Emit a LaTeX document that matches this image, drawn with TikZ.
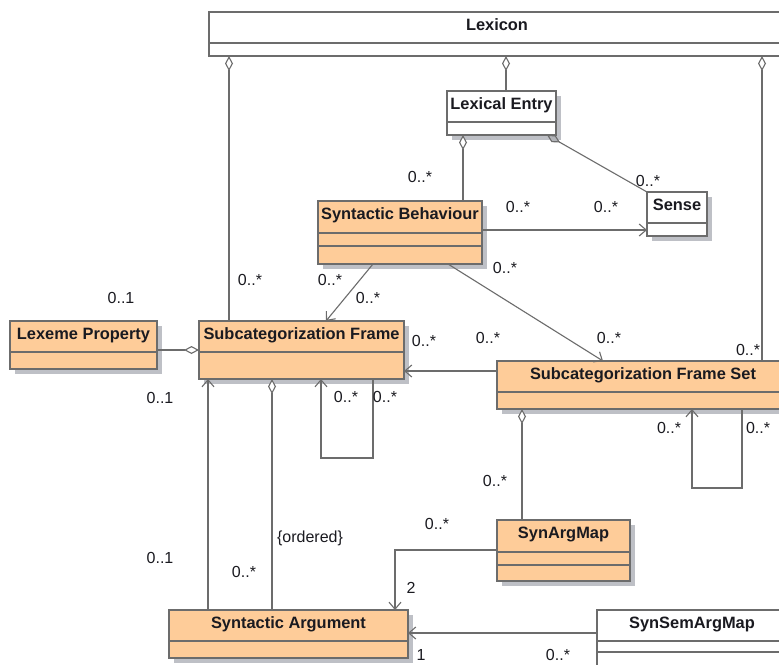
\documentclass[tikz,border=0pt]{standalone}
\usepackage{fontspec}
\setmainfont{Liberation Sans}
\usetikzlibrary{arrows.meta,calc,shadows}

\definecolor{peach}{RGB}{254,204,153}
\definecolor{umlline}{RGB}{108,108,108}
\definecolor{umlshadow}{RGB}{190,192,198}
\definecolor{umltext}{RGB}{26,26,32}

\tikzset{
  classbox/.style={draw=umlline, line width=1.3pt, inner sep=0pt, outer sep=0pt},
  shadowed/.style={general shadow={fill=umlshadow, shadow xshift=5pt, shadow yshift=-5pt}},
  filled/.style={fill=peach},
  plain/.style={fill=white},
  classname/.style={font=\fontsize{16.4}{18}\selectfont\bfseries, text=umltext, inner sep=0pt},
  boxline/.style={draw=umlline, line width=1.3pt},
  conn/.style={draw=umlline, line width=1.1pt, line join=miter},
  nav/.style={conn, -{Straight Barb[length=7pt,width=12pt,line width=1.1pt]}},
  agg/.style={conn, {Diamond[length=15pt,width=8pt,fill=white,line width=1.1pt]}-},
  aggend/.style={conn, -{Diamond[length=15pt,width=8pt,fill=white,line width=1.1pt]}},
  comp/.style={conn, {Diamond[length=15pt,width=8pt,fill=umlshadow!80!gray,line width=1.1pt]}-},
  mult/.style={font=\fontsize{16}{18}\selectfont, text=umltext, inner sep=0pt}
}

% class box: [style] name, x, y, width, height, title
\newcommand\umlclass[7][]{%
  \node[classbox,#1,minimum width=#5pt,minimum height=#6pt,anchor=north west] (#2) at (#3,#4) {};
  \node[classname,anchor=base] (#2-name) at ($(#2.north)+(0,18)$) {#7};
}
% compartment separator at a given depth below the top edge
\newcommand\umlsep[2]{\draw[boxline] ($(#1.north west)+(0,#2)$) -- ($(#1.north east)+(0,#2)$);}

\begin{document}
\begin{tikzpicture}[x=1pt,y=-1pt]
\path[use as bounding box, clip] (0,0) rectangle (779,664);
\fill[white] (0,0) rectangle (779,664);

% ---- classes ----
\umlclass[plain]{lexicon}{209}{12}{576}{44}{Lexicon}
\umlsep{lexicon}{31}

\umlclass[plain,shadowed]{le}{447}{91}{109}{44}{Lexical Entry}
\umlsep{le}{31}

\umlclass[plain,shadowed]{sense}{647}{192}{60}{44}{Sense}
\umlsep{sense}{31}

\umlclass[filled,shadowed]{sb}{318}{201}{164}{63}{Syntactic Behaviour}
\umlsep{sb}{32}
\umlsep{sb}{45}

\umlclass[filled,shadowed]{lp}{10}{321}{147}{48}{Lexeme Property}
\umlsep{lp}{31}

\umlclass[filled,shadowed]{sf}{199}{321}{205}{58}{Subcategorization Frame}
\umlsep{sf}{31}

\umlclass[filled,shadowed]{sfs}{497}{361}{292}{48}{Subcategorization Frame Set}
\umlsep{sfs}{31}

\umlclass[filled,shadowed]{sam}{497}{520}{133}{61}{SynArgMap}
\umlsep{sam}{32}
\umlsep{sam}{45}

\umlclass[filled,shadowed]{sa}{169}{610}{239}{48}{Syntactic Argument}
\umlsep{sa}{31}

\umlclass[plain]{ssam}{597}{610}{190}{70}{SynSemArgMap}
\umlsep{ssam}{31}
\umlsep{ssam}{42}

% ---- connectors ----
\draw[agg] ($(lexicon.south west)+(20,0)$) -- ($(sf.north west)+(30,0)$);
\draw[agg] ($(lexicon.south west)+(297,0)$) -- ($(le.north west)+(59,0)$);
\draw[agg] ($(lexicon.south west)+(553,0)$) -- ($(sfs.north west)+(265,0)$);
\draw[agg] ($(le.south west)+(16,0)$) -- ($(sb.north west)+(145,0)$);
\draw[comp] ($(le.south east)+(-9,0)$) -- (sense.north west);
\draw[nav] ($(sb.north east)+(0,29)$) -- ($(sense.north west)+(0,38)$);
\draw[nav] ($(sb.south west)+(55,0)$) -- ($(sf.north west)+(127,0)$);
\draw[nav] ($(sb.south west)+(130,0)$) -- ($(sfs.north west)+(106,0)$);
\draw[nav] ($(sfs.north west)+(0,10)$) -- ($(sf.north east)+(0,50)$);
\draw[nav] ($(sf.south west)+(174,0)$) -- ++(0,79) -| ($(sf.south west)+(122,0)$);
\draw[nav] ($(sfs.south west)+(245,0)$) -- ++(0,79) -| ($(sfs.south west)+(195,0)$);
\draw[aggend] ($(lp.north east)+(0,29)$) -- ($(sf.north west)+(0,29)$);
\draw[nav] ($(sa.north west)+(39,0)$) -- ($(sf.south west)+(9,0)$);
\draw[agg] ($(sf.south west)+(73,0)$) -- ($(sa.north west)+(103,0)$);
\draw[agg] ($(sfs.south west)+(25,0)$) -- ($(sam.north west)+(25,0)$);
\draw[nav] ($(sam.north west)+(0,30)$) -| ($(sa.north west)+(226,0)$);
\draw[nav] ($(ssam.north west)+(0,23)$) -- ($(sa.north east)+(0,23)$);

% ---- multiplicities and constraints ----
\node[mult] (m1)  at (250,280) {0..*};
\node[mult] (m2)  at (748,350) {0..*};
\node[mult] (m3)  at (420,177) {0..*};
\node[mult] (m4)  at (648,181) {0..*};
\node[mult] (m5)  at (518,207) {0..*};
\node[mult] (m6)  at (606,207) {0..*};
\node[mult] (m7)  at (330,280) {0..*};
\node[mult] (m8)  at (368,298) {0..*};
\node[mult] (m9)  at (505,268) {0..*};
\node[mult] (m10) at (609,338) {0..*};
\node[mult] (m11) at (424,341) {0..*};
\node[mult] (m12) at (488,338) {0..*};
\node[mult] (m13) at (346,397) {0..*};
\node[mult] (m14) at (385,397) {0..*};
\node[mult] (m15) at (669,428) {0..*};
\node[mult] (m16) at (758,428) {0..*};
\node[mult] (m17) at (121,298) {0..1};
\node[mult] (m18) at (160,398) {0..1};
\node[mult] (m19) at (160,558) {0..1};
\node[mult] (m20) at (310,538) {\{ordered\}};
\node[mult] (m21) at (244,572) {0..*};
\node[mult] (m22) at (495,481) {0..*};
\node[mult] (m23) at (437,524) {0..*};
\node[mult] (m24) at (411,588) {2};
\node[mult] (m25) at (421,655) {1};
\node[mult] (m26) at (558,655) {0..*};
\end{tikzpicture}
\end{document}
